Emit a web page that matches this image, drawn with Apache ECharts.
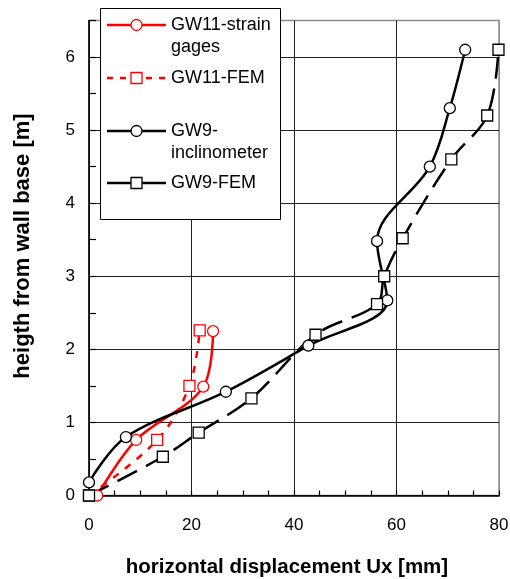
<!DOCTYPE html>
<html>
<head>
<meta charset="utf-8">
<script src="https://cdn.jsdelivr.net/npm/echarts@6/dist/echarts.min.js"></script>
<style>
html,body{margin:0;padding:0;background:#fff;}
#chart{width:510px;height:579px;}
</style>
</head>
<body>
<div id="chart"></div>
<script>
// ---- data ----
const seriesNames = ['GW11-strain gages', 'GW11-FEM', 'GW9-inclinometer', 'GW9-FEM'];
const gw11StrainX = [1.6, 9.2, 22.3, 24.2];
const gw11StrainY = [0, 0.76, 1.49, 2.25];
const gw11FemX = [0, 13.3, 19.6, 21.6];
const gw11FemY = [0, 0.76, 1.5, 2.26];
const gw9InclX = [0, 7.2, 26.7, 42.8, 58.2, 56.2, 66.5, 70.4, 73.4];
const gw9InclY = [0.18, 0.8, 1.42, 2.05, 2.67, 3.48, 4.5, 5.3, 6.1];
const gw9FemX = [0, 14.4, 21.4, 31.7, 44.2, 56.2, 57.6, 61.2, 70.7, 77.7, 79.9];
const gw9FemY = [0, 0.53, 0.86, 1.33, 2.2, 2.62, 3.0, 3.52, 4.6, 5.2, 6.1];
const xTicks = [0, 20, 40, 60, 80];
const yTicks = [0, 1, 2, 3, 4, 5, 6];

const pairs = (xs, ys) => xs.map((x, i) => [x, ys[i]]);
const FONT = '"Liberation Sans", Arial, sans-serif';

// y split line colours: every 0.5 tick, line only on integers
const ySplitColors = [];
for (let v = 0; v <= 6.5001; v += 0.5) {
  ySplitColors.push(Math.abs(v - Math.round(v)) < 1e-6 && v < 6.4 ? '#222' : 'rgba(0,0,0,0)');
}
const xSplitColors = xTicks.map(v => (v === 80 ? '#8c8c8c' : '#222'));

const chart = echarts.init(document.getElementById('chart'), null, {renderer: 'canvas'});

function lineSeries(name, data, color, symbol, dash) {
  return {
    name: name,
    type: 'line',
    data: data,
    smooth: 0.35,
    symbol: symbol,
    symbolSize: 11,
    showSymbol: true,
    lineStyle: {color: color, width: 2.5, type: dash || 'solid'},
    itemStyle: {color: '#fff', borderColor: color, borderWidth: 1.3},
    emphasis: {disabled: true},
    animation: false
  };
}

// legend drawn as graphic to reproduce the boxed Excel legend
const lgX = 107, lgW = 59, lgTx = 171;
function legendEntry(y, color, symbol, dash, lines) {
  const els = [];
  els.push({
    type: 'line', z: 101,
    shape: {x1: lgX, y1: y, x2: lgX + lgW, y2: y},
    style: {stroke: color, lineWidth: 2.5, lineDash: dash || null}
  });
  if (symbol === 'circle') {
    els.push({type: 'circle', z: 102, shape: {cx: lgX + lgW / 2, cy: y, r: 5.5},
      style: {fill: '#fff', stroke: color, lineWidth: 1.3}});
  } else {
    els.push({type: 'rect', z: 102, shape: {x: lgX + lgW / 2 - 5.5, y: y - 5.5, width: 11, height: 11},
      style: {fill: '#fff', stroke: color, lineWidth: 1.3}});
  }
  lines.forEach((t, i) => {
    els.push({type: 'text', z: 102, x: lgTx, y: y + i * 22,
      style: {text: t, fill: '#000', font: '18px ' + FONT, verticalAlign: 'middle', align: 'left'}});
  });
  return els;
}

const legendGraphics = [
  {type: 'rect', z: 100, shape: {x: 100.5, y: 8.5, width: 180, height: 211},
    style: {fill: '#fff', stroke: '#000', lineWidth: 1}}
].concat(
  legendEntry(25, '#ff0000', 'circle', null, ['GW11-strain', 'gages']),
  legendEntry(78, '#ff0000', 'rect', [6, 7], ['GW11-FEM']),
  legendEntry(131, '#000', 'circle', null, ['GW9-', 'inclinometer']),
  legendEntry(183, '#000', 'rect', null, ['GW9-FEM'])
);

const option = {
  backgroundColor: '#fff',
  animation: false,
  textStyle: {fontFamily: FONT},
  grid: {
    left: 89, right: 11, top: 20.5, bottom: 83.5,
    containLabel: false, outerBoundsMode: 'none',
    show: true, borderColor: '#8c8c8c', borderWidth: 1.5, backgroundColor: 'transparent'
  },
  xAxis: {
    type: 'value', min: 0, max: 80, interval: 20,
    name: 'horizontal displacement Ux [mm]',
    nameLocation: 'middle', nameGap: 61,
    nameTextStyle: {fontSize: 20.5, fontWeight: 'bold', color: '#000', fontFamily: FONT, padding: [0, 14, 0, 0]},
    axisLine: {show: true, onZero: false, lineStyle: {color: '#000', width: 1.5}},
    axisTick: {show: true, inside: true, length: 5, lineStyle: {color: '#000', width: 1.2}},
    minorTick: {show: true, splitNumber: 4, length: 5, lineStyle: {color: '#000', width: 1.2}},
    axisLabel: {fontSize: 17, color: '#000', margin: 21, fontFamily: FONT,
      formatter: v => (xTicks.indexOf(v) >= 0 ? String(v) : '')},
    splitLine: {show: true, lineStyle: {color: xSplitColors, width: 1}}
  },
  yAxis: {
    type: 'value', min: 0, max: 6.5, interval: 0.5,
    name: 'heigth from wall base [m]',
    nameLocation: 'middle', nameGap: 55,
    nameTextStyle: {fontSize: 22, fontWeight: 'bold', color: '#000', fontFamily: FONT, padding: [0, 0, 0, 24]},
    axisLine: {show: true, onZero: false, lineStyle: {color: '#000', width: 1.5}},
    axisTick: {show: true, inside: true, length: 7, lineStyle: {color: '#000', width: 1.2}},
    axisLabel: {fontSize: 17, color: '#000', margin: 14, fontFamily: FONT,
      formatter: v => (yTicks.indexOf(v) >= 0 ? String(v) : '')},
    splitLine: {show: true, lineStyle: {color: ySplitColors, width: 1}}
  },
  series: [
    lineSeries(seriesNames[1], pairs(gw11FemX, gw11FemY), '#ff0000', 'rect', [7, 8]),
    lineSeries(seriesNames[0], pairs(gw11StrainX, gw11StrainY), '#ff0000', 'circle'),
    lineSeries(seriesNames[2], pairs(gw9InclX, gw9InclY), '#000', 'circle'),
    lineSeries(seriesNames[3], pairs(gw9FemX, gw9FemY), '#000', 'rect', [22, 10])
  ],
  graphic: legendGraphics
};
chart.setOption(option);
</script>
</body>
</html>
